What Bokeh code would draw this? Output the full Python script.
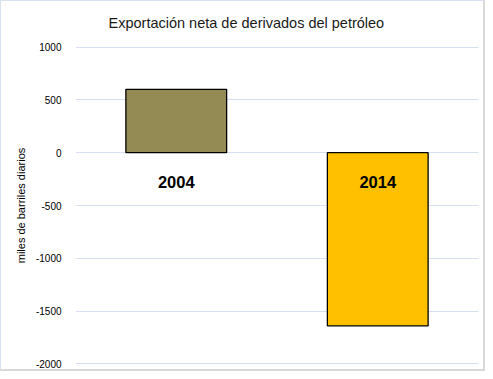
from bokeh.plotting import figure
from bokeh.models import ColumnDataSource, Range1d, FactorRange, FixedTicker, Title, PrintfTickFormatter
from bokeh.core.properties import value
from bokeh.embed import file_html
from bokeh.resources import INLINE

years = ["2004", "2014"]
values = [600, -1640]
colors = ["#948A54", "#FFC000"]
y_ticks = [-2000, -1500, -1000, -500, 0, 500, 1000]

FONT = "Liberation Sans"

src = ColumnDataSource(dict(x=years, top=values, bottom=[0] * len(values), color=colors,
                            label=years, zero=[0] * len(values)))

p = figure(width=485, height=371, x_range=FactorRange(*years, range_padding=0),
           y_range=Range1d(y_ticks[0] - 6, y_ticks[-1] + 6), output_backend="svg",
           toolbar_location=None,
           min_border_left=74, min_border_right=8, min_border_bottom=8, min_border_top=45)
p.styles = {"border-right": "2px solid #D9D9D9", "border-bottom": "2px solid #D9D9D9",
            "border-left": "1px solid #D9E1F0", "border-top": "1px solid #D9E1F0",
            "box-sizing": "border-box"}

p.title = Title(text="Exportación neta de derivados del petróleo", align="left",
                offset=33, standoff=27, vertical_align="top", text_font=FONT,
                text_font_size="14.5px", text_font_style="normal", text_color="#1a1a1a")

p.vbar(x="x", top="top", bottom="bottom", width=0.5, fill_color="color",
       line_color="black", line_width=1.3, source=src)

p.text(x="x", y="zero", text="label", y_offset=29, text_align="center", text_baseline="middle",
       text_font=value(FONT), text_font_size="16.5px", text_font_style="bold",
       text_color="black", source=src)

p.xaxis.visible = False
p.xgrid.visible = False
p.ygrid.grid_line_color = "#D6DFEF"
p.ygrid.grid_line_width = 1
p.yaxis.ticker = FixedTicker(ticks=y_ticks)
p.yaxis.formatter = PrintfTickFormatter(format="%d")
p.yaxis.axis_line_color = None
p.yaxis.major_tick_line_color = None
p.yaxis.minor_tick_line_color = None
p.yaxis.major_label_standoff = 8
p.yaxis.major_label_text_font = FONT
p.yaxis.major_label_text_font_size = "10px"
p.yaxis.major_label_text_color = "black"
p.yaxis.axis_label = "miles de barriles diarios"
p.yaxis.axis_label_text_font = FONT
p.yaxis.axis_label_text_font_size = "11px"
p.yaxis.axis_label_text_font_style = "normal"
p.yaxis.axis_label_text_color = "black"
p.yaxis.axis_label_standoff = 6
p.outline_line_color = None

open("out.html", "w").write(file_html(p, INLINE))
